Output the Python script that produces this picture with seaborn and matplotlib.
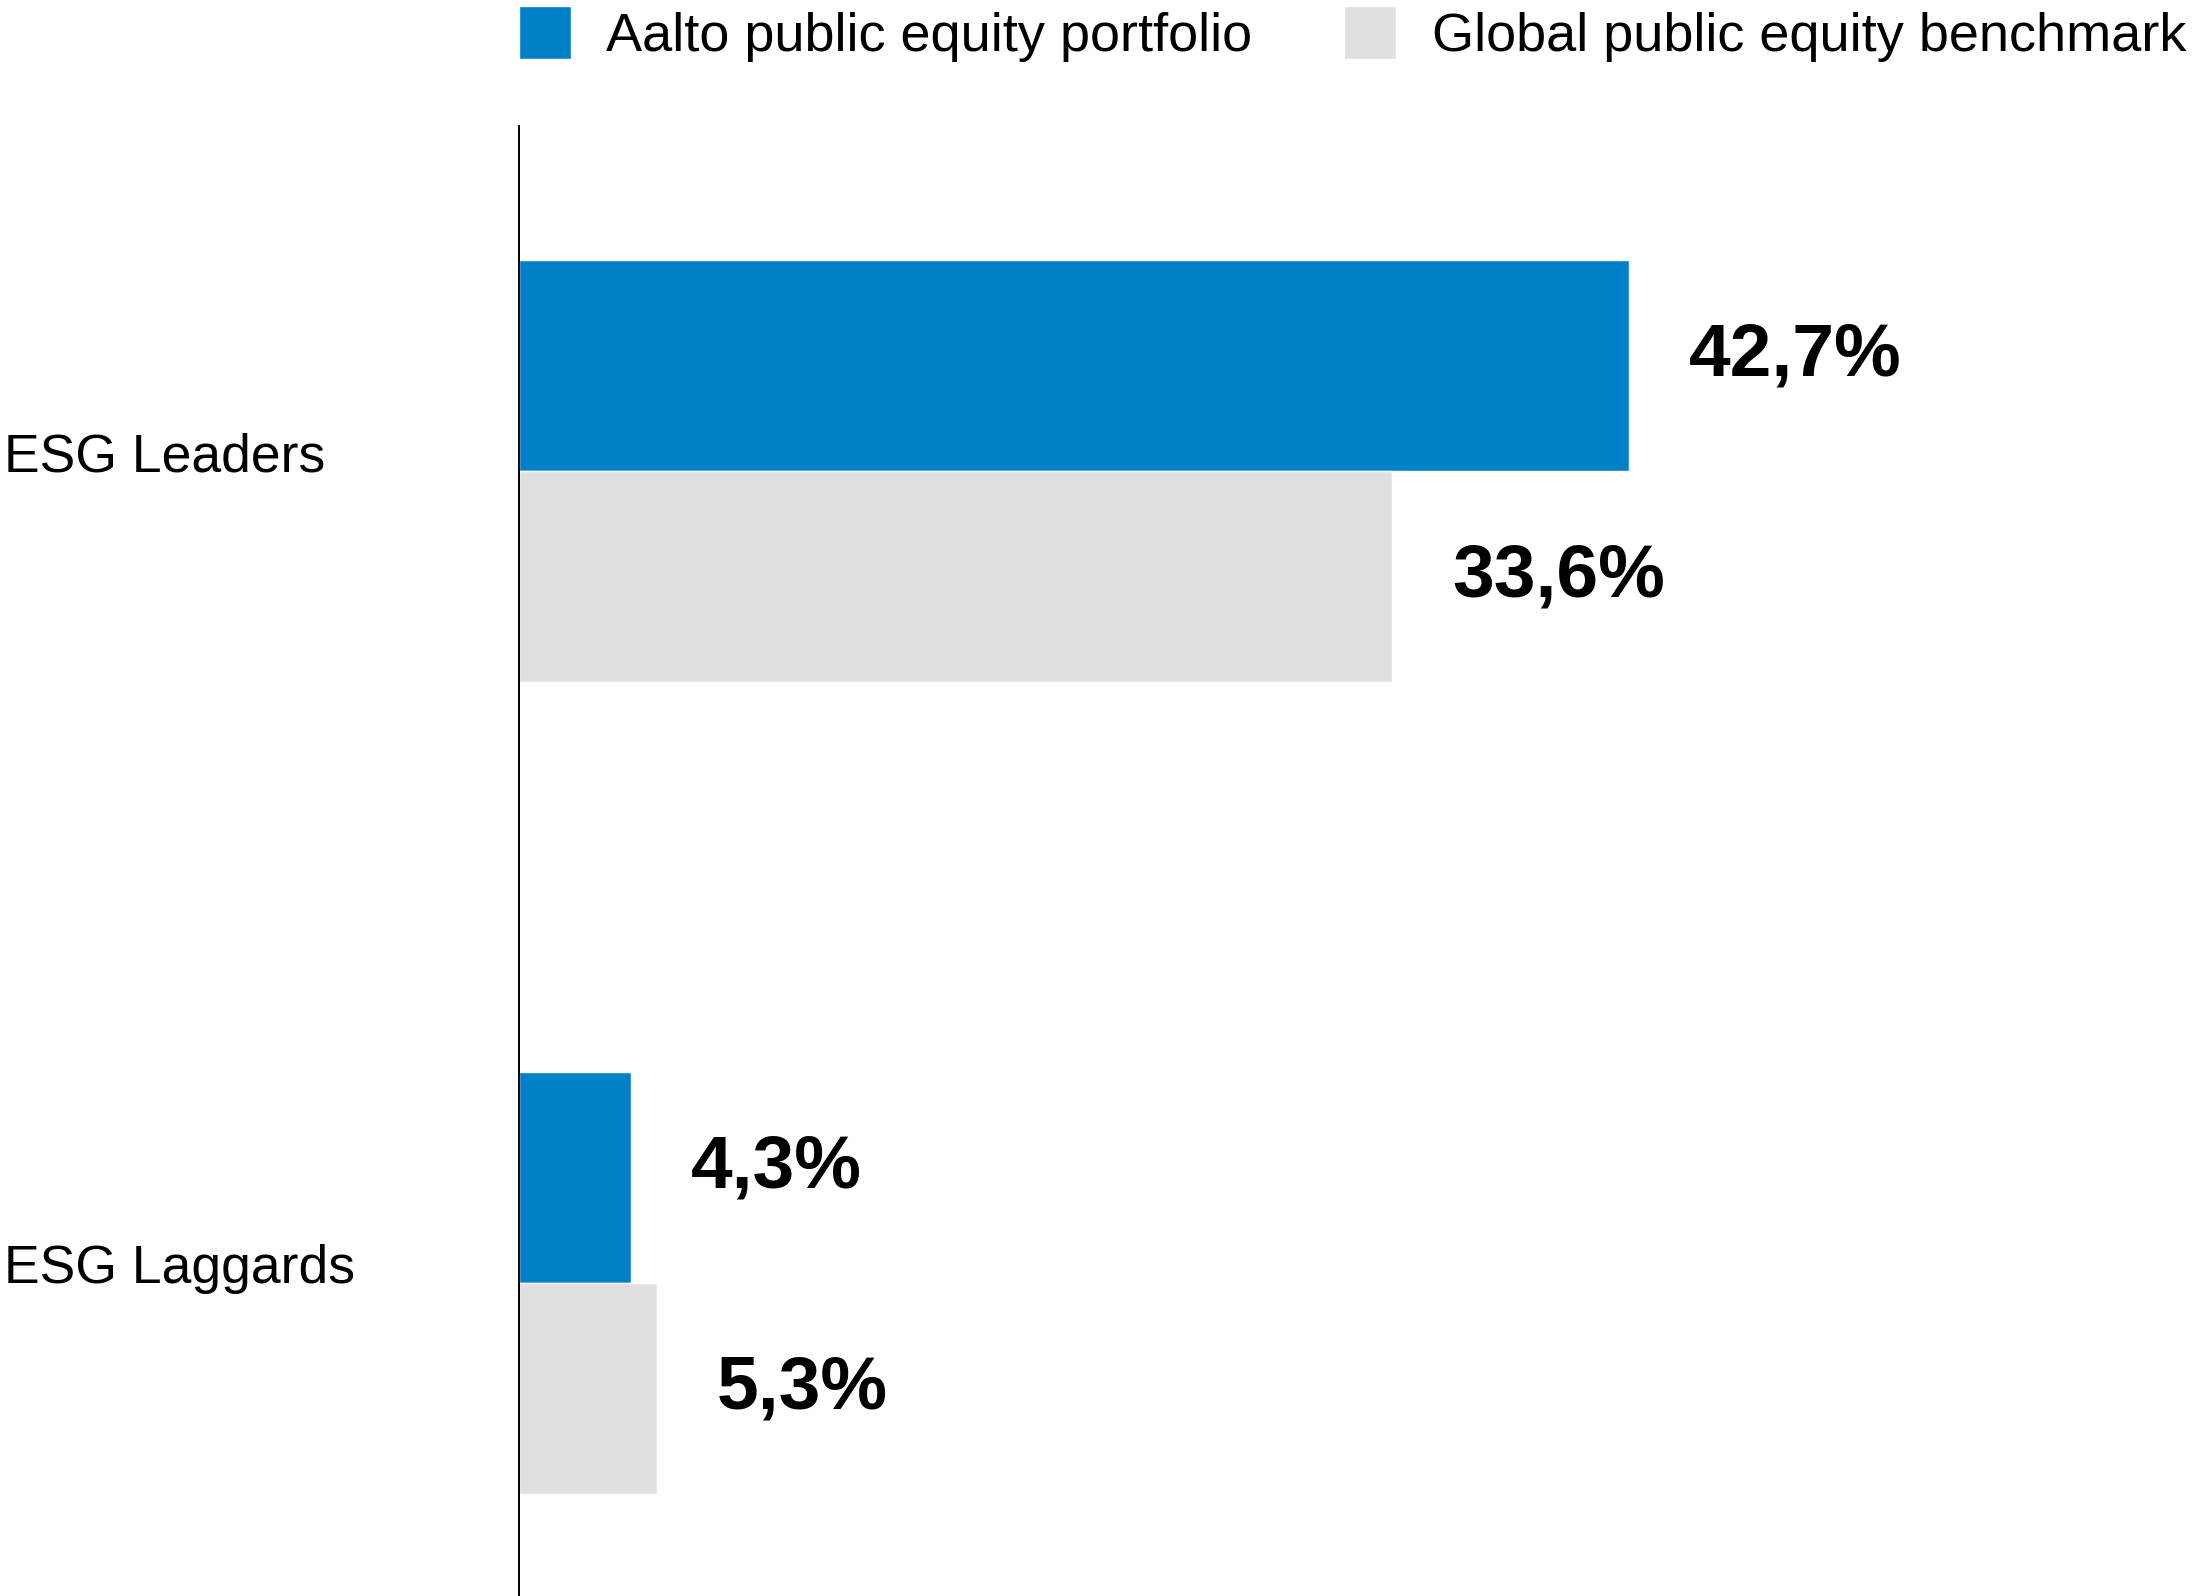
import matplotlib
matplotlib.use('Agg')
import matplotlib.pyplot as plt
import pandas as pd
import seaborn as sns

# Data
categories = ['ESG Leaders', 'ESG Laggards']
series = ['Aalto public equity portfolio', 'Global public equity benchmark']
aalto_values = [42.7, 4.3]
benchmark_values = [33.6, 5.3]
colors = ['#0080C6', '#E0E0E0']

df = pd.DataFrame({
    'category': categories * 2,
    'series': [series[0]] * 2 + [series[1]] * 2,
    'value': aalto_values + benchmark_values,
})

sns.set_style('white')
plt.rcParams['font.family'] = ['Liberation Sans', 'DejaVu Sans']
plt.rcParams['text.color'] = 'black'
plt.rcParams['ytick.color'] = 'black'
plt.rcParams['ytick.labelcolor'] = 'black'

W, H = 2198, 1596
fig = plt.figure(figsize=(W / 100, H / 100), dpi=100)
ax_left = 519 / W
ax = fig.add_axes([ax_left, 0, 1 - ax_left, 1 - 126 / H])

sns.barplot(data=df, x='value', y='category', hue='series', orient='h',
            palette=colors, saturation=1, width=0.52, ax=ax)

ax.set_xlim(0, 64.6)
ax.set_ylim(1.385, -0.425)

# value labels
for i, (cont, vals) in enumerate(zip(ax.containers, [aalto_values, benchmark_values])):
    labels = [f'{v:.1f}'.replace('.', ',') + '%' for v in vals]
    anns = ax.bar_label(cont, labels=labels, padding=43, fontsize=54,
                        fontweight='bold', color='black')
    if i == 0:
        for a in anns:
            a.xyann = (a.xyann[0], a.xyann[1] + 7)

# axes styling
for side in ['top', 'right', 'bottom']:
    ax.spines[side].set_visible(False)
ax.spines['left'].set_color('black')
ax.spines['left'].set_linewidth(1.4)
ax.set_xticks([])
ax.set_xlabel('')
ax.set_ylabel('')
ax.tick_params(axis='y', length=0, pad=371, labelsize=38.5, labelcolor='black')
for lab in ax.get_yticklabels():
    lab.set_horizontalalignment('left')
    lab.set_verticalalignment('baseline')

# legend on top
handles, labels = ax.get_legend_handles_labels()
ax.get_legend().remove()
leg = fig.legend(handles, labels, loc='upper left',
                 bbox_to_anchor=(ax_left, 1 - 6 / H), ncol=2, frameon=False,
                 borderpad=0, borderaxespad=0, handlelength=0.96,
                 handleheight=1.12, handletextpad=0.65, columnspacing=1.7,
                 labelcolor='black',
                 prop={'family': ['Liberation Sans Narrow', 'Liberation Sans'],
                       'size': 39})

fig.savefig('out.png', dpi=100)
